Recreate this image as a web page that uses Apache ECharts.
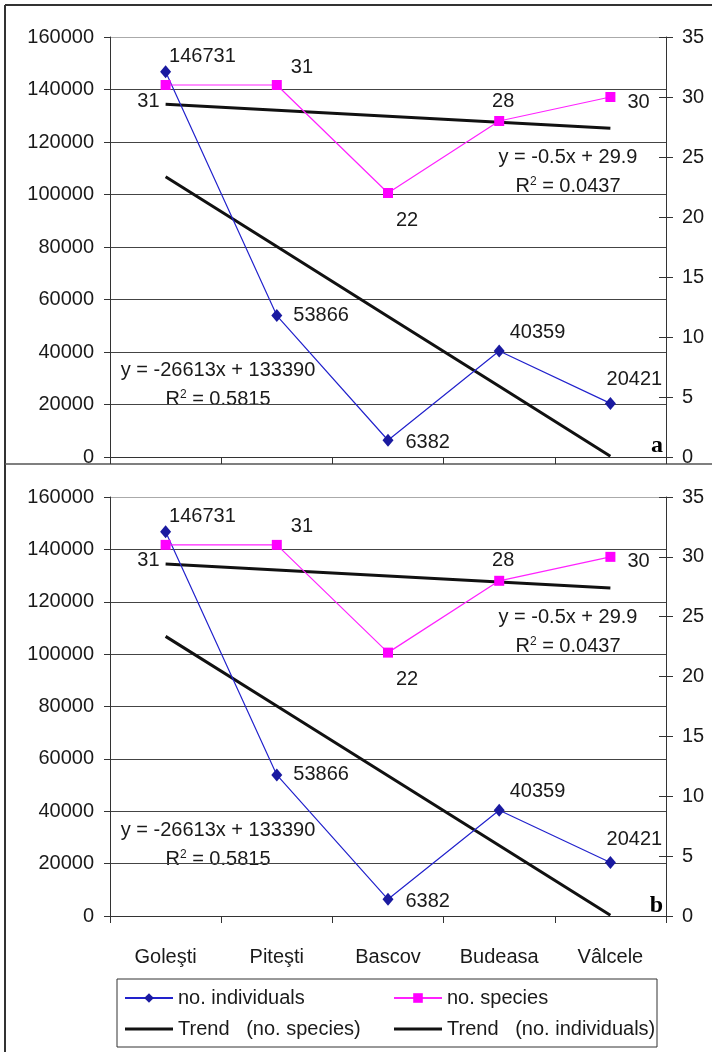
<!DOCTYPE html>
<html>
<head>
<meta charset="utf-8">
<script src="https://cdn.jsdelivr.net/npm/echarts@6/dist/echarts.min.js"></script>
<style>html,body{margin:0;padding:0;background:#fff}#c{width:712px;height:1052px}</style>
</head>
<body>
<div id="c"></div>
<script>
const categories = ['Goleşti', 'Piteşti', 'Bascov', 'Budeasa', 'Vâlcele'];
const individuals = [146731, 53866, 6382, 40359, 20421];
const species = [31, 31, 22, 28, 30];
const trendSpecies = [29.4, 28.9, 28.4, 27.9, 27.4];
const trendIndividuals = [106777, 80164, 53551, 26938, 325];
const leftAxis = { min: 0, max: 160000, interval: 20000 };
const rightAxis = { min: 0, max: 35, interval: 5 };
const panelLetters = ['a', 'b'];
const eqSpecies = ['y = -0.5x + 29.9', '0.0437'];
const eqIndividuals = ['y = -26613x + 133390', '0.5815'];

const FONT = "'Liberation Sans', Arial, sans-serif";
const TXT = '#1a1a1a';
const FS = 20;

const chart = echarts.init(document.getElementById('c'), null, { renderer: 'canvas' });

const grids = [
  { left: 110, right: 46, top: 37, height: 420 },
  { left: 110, right: 46, top: 497, height: 419 }
];

const indLabel = [
  { position: 'right', offset: [-7, -15] },
  { position: 'right', offset: [6, 0] },
  { position: 'right', offset: [7, 2] },
  { position: 'right', offset: [0, -19] },
  { position: 'top', offset: [24, -2] }
];
const spLabel = [
  { position: 'left', offset: [4, 16] },
  { position: 'right', offset: [4, -18] },
  { position: 'bottom', offset: [19, 7] },
  { position: 'top', offset: [4, 0] },
  { position: 'right', offset: [7, 5] }
];

function items(vals, cfg) {
  return vals.map((v, i) => ({ value: v, label: cfg[i] }));
}

const xAxes = [], yAxes = [], series = [];
const splitColors = ['#444', '#444', '#444', '#444', '#444', '#444', '#444', '#444', '#aaa'];

grids.forEach((g, gi) => {
  xAxes.push({
    type: 'category', gridIndex: gi, data: categories,
    axisLine: { show: true, lineStyle: { color: '#333', width: 1 } },
    axisTick: { show: true, length: 7, lineStyle: { color: '#333' } },
    axisLabel: { show: gi === 1, margin: 31, fontSize: FS, fontFamily: FONT, color: TXT },
    splitLine: { show: false }
  });
  const base = yAxes.length;
  yAxes.push({
    type: 'value', gridIndex: gi, position: 'left', ...leftAxis,
    axisLine: { show: true, lineStyle: { color: '#333' } },
    axisTick: { show: true, length: 6, lineStyle: { color: '#333' } },
    axisLabel: { margin: 16, fontSize: FS, fontFamily: FONT, color: TXT, formatter: v => String(v) },
    splitLine: { show: true, lineStyle: { color: splitColors, width: 1 } }
  });
  yAxes.push({
    type: 'value', gridIndex: gi, position: 'right', offset: 0, ...rightAxis,
    axisLine: { show: true, lineStyle: { color: '#333' } },
    axisTick: { show: true, length: 7, lineStyle: { color: '#333' } },
    axisLabel: { margin: 16, fontSize: FS, fontFamily: FONT, color: TXT },
    splitLine: { show: false }
  });
  yAxes.push({
    type: 'value', gridIndex: gi, position: 'right', offset: 0, ...rightAxis,
    axisLine: { show: false },
    axisTick: { show: true, inside: true, length: 7, lineStyle: { color: '#333' } },
    axisLabel: { show: false },
    splitLine: { show: false }
  });
  const lbl = { show: true, fontSize: FS, fontFamily: FONT, color: TXT };
  series.push({
    name: 'Trend   (no. species)', type: 'line', xAxisIndex: gi, yAxisIndex: base + 1,
    data: trendSpecies, symbol: 'none', lineStyle: { color: '#111', width: 3 }, itemStyle: { color: '#111' },
    silent: true, z: 2
  });
  series.push({
    name: 'Trend   (no. individuals)', type: 'line', xAxisIndex: gi, yAxisIndex: base,
    data: trendIndividuals, symbol: 'none', lineStyle: { color: '#111', width: 3 }, itemStyle: { color: '#111' },
    silent: true, z: 2
  });
  series.push({
    name: 'no. individuals', type: 'line', xAxisIndex: gi, yAxisIndex: base,
    data: items(individuals, indLabel), symbol: 'diamond', symbolSize: [11, 13],
    lineStyle: { color: '#2222cc', width: 1.2 }, itemStyle: { color: '#1a1aa0' },
    label: lbl, z: 3
  });
  series.push({
    name: 'no. species', type: 'line', xAxisIndex: gi, yAxisIndex: base + 1,
    data: items(species, spLabel), symbol: 'rect', symbolSize: 10,
    lineStyle: { color: '#ff22ff', width: 1.2 }, itemStyle: { color: '#ff00ff' },
    label: lbl, z: 3
  });
});

const rich = { sup: { fontSize: 12, fontFamily: FONT, fill: TXT, verticalAlign: 'top', padding: [0, 0, 8, 0] }, n: { fontSize: FS, fontFamily: FONT, fill: TXT } };
const graphics = [
  { type: 'line', shape: { x1: 5, y1: 5, x2: 712, y2: 5 }, style: { stroke: '#333', lineWidth: 2 } },
  { type: 'line', shape: { x1: 5, y1: 5, x2: 5, y2: 1052 }, style: { stroke: '#333', lineWidth: 2 } },
  { type: 'line', shape: { x1: 5, y1: 464, x2: 712, y2: 464 }, style: { stroke: '#555', lineWidth: 1.5 } },
  { type: 'rect', shape: { x: 117, y: 979, width: 540, height: 68 }, style: { fill: 'none', stroke: '#333', lineWidth: 1 } }
];
grids.forEach((g, gi) => {
  const dy = g.top - 37;
  graphics.push({ type: 'text', x: 568, y: 157 + dy, style: { text: eqSpecies[0], fontSize: FS, fontFamily: FONT, fill: TXT, align: 'center', verticalAlign: 'middle' } });
  graphics.push({ type: 'text', x: 568, y: 186 + dy, style: { text: '{n|R}{sup|2}{n| = ' + eqSpecies[1] + '}', rich: rich, align: 'center', verticalAlign: 'middle' } });
  graphics.push({ type: 'text', x: 218, y: 370 + dy, style: { text: eqIndividuals[0], fontSize: FS, fontFamily: FONT, fill: TXT, align: 'center', verticalAlign: 'middle' } });
  graphics.push({ type: 'text', x: 218, y: 399 + dy, style: { text: '{n|R}{sup|2}{n| = ' + eqIndividuals[1] + '}', rich: rich, align: 'center', verticalAlign: 'middle' } });
  graphics.push({ type: 'text', x: 663, y: 446 + dy, style: { text: panelLetters[gi], fontSize: 24, fontWeight: 'bold', fontFamily: "'Liberation Serif', 'DejaVu Serif', serif", fill: '#000', align: 'right', verticalAlign: 'middle' } });
});

const barIcon = 'path://M0,0h16v1h-16z';
const legendBase = {
  orient: 'vertical', top: 988, padding: 0, itemWidth: 48, itemHeight: 12, itemGap: 11,
  symbolKeepAspect: true,
  textStyle: { fontSize: FS, fontFamily: FONT, color: TXT }, selectedMode: false
};

chart.setOption({
  animation: false,
  backgroundColor: '#fff',
  grid: grids,
  xAxis: xAxes,
  yAxis: yAxes,
  series: series,
  legend: [
    { ...legendBase, left: 124, data: ['no. individuals', { name: 'Trend   (no. species)', icon: barIcon }] },
    { ...legendBase, left: 393, data: ['no. species', { name: 'Trend   (no. individuals)', icon: barIcon }] }
  ],
  graphic: graphics
});
</script>
</body>
</html>
